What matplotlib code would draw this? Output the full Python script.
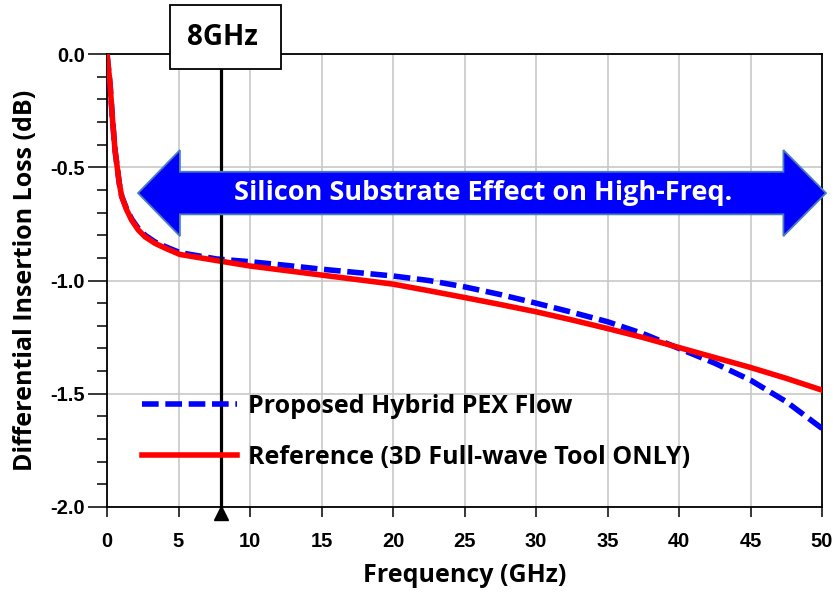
import numpy as np
import matplotlib
matplotlib.use('Agg')
import matplotlib.pyplot as plt
import matplotlib.patches as mpatches
from matplotlib.ticker import MultipleLocator

# values
freq = [0, 0.21, 0.37, 0.56, 0.86, 1.03, 1.38, 1.72, 2.19, 2.66, 3.36, 4.17, 5.1, 7.67,
        10, 12.5, 15, 17.5, 20, 22.5, 25, 27.5, 30, 32.5, 35, 37.5, 40, 42.5, 45,
        47.5, 50]
ref = [0, -0.13, -0.277, -0.424, -0.571, -0.630, -0.689, -0.733, -0.777, -0.807,
       -0.836, -0.860, -0.885, -0.912, -0.936, -0.956, -0.976, -0.996, -1.016,
       -1.045, -1.075, -1.106, -1.138, -1.174, -1.212, -1.252, -1.296, -1.34,
       -1.384, -1.432, -1.484]
prop = [0, -0.13, -0.277, -0.424, -0.571, -0.628, -0.685, -0.728, -0.77, -0.800,
        -0.83, -0.853, -0.877, -0.905, -0.917, -0.933, -0.95, -0.965, -0.98, -1.0,
        -1.028, -1.062, -1.10, -1.14, -1.182, -1.235, -1.30, -1.365, -1.44, -1.535,
        -1.653]
labels = ["Proposed Hybrid PEX Flow", "Reference (3D Full-wave Tool ONLY)"]
marker_freq = 8

TXT = ['Open Sans', 'DejaVu Sans']
NUM = ['Liberation Sans', 'DejaVu Sans']

fig = plt.figure(figsize=(8.34, 5.93), dpi=100)
ax = fig.add_axes([107/834, 1-507/593, 715/834, 453/593])

ax.plot(freq, prop, color='#0000ff', lw=4.0, linestyle=(0, (3.0, 1.2)),
        dash_capstyle='butt', label=labels[0], zorder=3)
ax.plot(freq, ref, color='#ff0000', lw=4.0, label=labels[1], zorder=4)

ax.set_xlim(0, 50)
ax.set_ylim(-2.0, 0.0)
ax.xaxis.set_major_locator(MultipleLocator(5))
ax.yaxis.set_major_locator(MultipleLocator(0.5))
ax.yaxis.set_minor_locator(MultipleLocator(0.1))
ax.set_yticklabels([f"{v:.1f}" for v in ax.get_yticks()])
ax.grid(True, which='major', color='#c8c8c8', lw=1.2, zorder=0)
ax.set_axisbelow(True)
ax.tick_params(axis='y', which='major', length=13.5, width=1.1, direction='out', pad=2.5)
ax.tick_params(axis='y', which='minor', length=7, width=1.1, direction='out')
ax.tick_params(axis='x', which='major', length=7, width=1.1, direction='out', pad=11)
for lab in ax.get_xticklabels() + ax.get_yticklabels():
    lab.set_family(NUM)
    lab.set_fontweight('bold')
    lab.set_fontsize(14.5)
for s in ax.spines.values():
    s.set_linewidth(1.3)
    s.set_color('black')

ax.set_xlabel("Frequency (GHz)", family=TXT, fontweight='bold', fontsize=18, labelpad=9)
ax.set_ylabel("Differential Insertion Loss (dB)", family=TXT, fontweight='bold',
              fontsize=18, labelpad=9)

# 8 GHz marker line, box and triangle
ax.plot([marker_freq, marker_freq], [-0.066, -2.0], color='black', lw=2.3,
        zorder=5, clip_on=False)
ax.plot(marker_freq, -2.028, marker='^', color='black', ms=10, zorder=6, clip_on=False)
box = mpatches.Rectangle((4.4, -0.066), 7.8, 0.282, facecolor='white',
                         edgecolor='black', lw=1.3, zorder=7, clip_on=False)
ax.add_patch(box)
ax.text(marker_freq + 0.05, 0.075, "8GHz", family=TXT, fontweight='bold', fontsize=20,
        ha='center', va='center', zorder=8, clip_on=False)

# double-headed arrow
yc, hb, hh = -0.614, 0.094, 0.19
pts = [(2.17, yc), (5.1, yc + hh), (5.1, yc + hb), (47.3, yc + hb), (47.3, yc + hh),
       (50.28, yc), (47.3, yc - hh), (47.3, yc - hb), (5.1, yc - hb), (5.1, yc - hh)]
arrow = mpatches.Polygon(pts, closed=True, facecolor='#0000ff', edgecolor='#4a7ebb',
                         lw=1.3, zorder=9, clip_on=False)
ax.add_patch(arrow)
ax.text(26.3, yc, "Silicon Substrate Effect on High-Freq.", color='white',
        family=TXT, fontweight='bold', fontsize=19.5, ha='center', va='center', zorder=10)

leg = ax.legend(loc='center left', bbox_to_anchor=(0.049, 0.166), frameon=False,
                prop={'family': TXT, 'weight': 'bold', 'size': 18},
                handlelength=3.8, handletextpad=0.42, labelspacing=1.05,
                borderpad=0, borderaxespad=0)
leg.set_zorder(11)

fig.savefig("out.png", dpi=100)
plt.close()
